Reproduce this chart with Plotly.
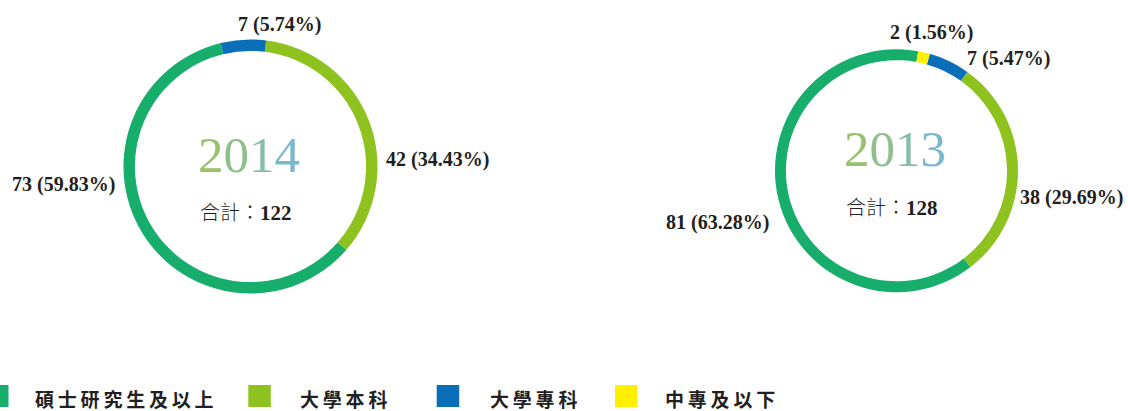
import plotly.graph_objects as go

W, H = 1128, 411

# Staff education levels, two years
categories = ["碩士研究生及以上", "大學本科", "大學專科", "中專及以下"]
colors = ["#17ad6a", "#8dc21f", "#0a6fb8", "#fff000"]

years = ["2014", "2013"]
counts_2014 = [73, 42, 7, 0]
counts_2013 = [81, 38, 7, 2]
pct_2014 = ["59.83", "34.43", "5.74", ""]
pct_2013 = ["63.28", "29.69", "5.47", "1.56"]

# digit colours of the year captions (green to light blue)
year_digit_colors = ["#97c26a", "#8fc08c", "#87bcab", "#7bb7cf"]

# pixel layout helpers
def px(x):
    return x / W

def py(y):
    return 1 - y / H

charts = [
    dict(year="2014", counts=counts_2014, pct=pct_2014, cx=250.5, cy=166.5, r=127, rot=131,
         year_y=155, total_y=211,
         labels=[(63, 184), (437, 159), (279, 24), None]),
    dict(year="2013", counts=counts_2013, pct=pct_2013, cx=896.5, cy=170.7, r=121.5, rot=142.5,
         year_y=149, total_y=206,
         labels=[(718, 222), (1071, 197), (1008, 58), (931, 32)]),
]

fig = go.Figure()
annotations = []
shapes = []

label_color = "#231f20"

for ch in charts:
    cx, cy, r = ch["cx"], ch["cy"], ch["r"]
    fig.add_trace(go.Pie(
        labels=categories,
        values=ch["counts"],
        marker=dict(colors=colors, line=dict(width=0)),
        hole=0.91,
        sort=False,
        direction="counterclockwise",
        rotation=ch["rot"],
        textinfo="none",
        hoverinfo="label+value+percent",
        showlegend=False,
        domain=dict(x=[px(cx - r), px(cx + r)], y=[py(cy + r), py(cy - r)]),
    ))

    # year caption, one colour per digit
    year_text = "".join(
        f"<span style='color:{c}'>{d}</span>" for d, c in zip(ch["year"], year_digit_colors)
    )
    annotations.append(dict(
        x=px(cx - 2), y=py(ch["year_y"]), xref="paper", yref="paper",
        text=year_text, showarrow=False, xanchor="center", yanchor="middle",
        font=dict(family="Liberation Serif", size=51, color="#8fc08c"),
    ))

    total = sum(ch["counts"])
    annotations.append(dict(
        x=px(cx - 5), y=py(ch["total_y"]), xref="paper", yref="paper",
        text=("合計：<span style='font-family:Liberation Serif;font-weight:bold;font-size:21px'>"
              f"{total}</span>"),
        showarrow=False, xanchor="center", yanchor="middle",
        font=dict(family="Noto Sans CJK TC", size=20, color=label_color, weight=300),
    ))

    # value labels around the ring
    for v, p, pos in zip(ch["counts"], ch["pct"], ch["labels"]):
        if v == 0 or pos is None:
            continue
        annotations.append(dict(
            x=px(pos[0]), y=py(pos[1]), xref="paper", yref="paper",
            text=f"{v} ({p}%)", showarrow=False, xanchor="center", yanchor="middle",
            font=dict(family="Liberation Serif", size=20, color=label_color, weight="bold"),
        ))

# legend row along the bottom
legend_sq_x = [-14, 248.3, 436.7, 615]
legend_txt_x = [33, 298, 488, 663]
for name, col, sx, tx in zip(categories, colors, legend_sq_x, legend_txt_x):
    shapes.append(dict(
        type="rect", xref="paper", yref="paper",
        x0=px(sx), x1=px(sx + 22.5), y0=py(407), y1=py(385),
        fillcolor=col, line=dict(width=0),
    ))
    annotations.append(dict(
        x=px(tx), y=py(398), xref="paper", yref="paper",
        text="\u2009".join(name), showarrow=False, xanchor="left", yanchor="middle",
        font=dict(family="Noto Sans CJK TC", size=19, color=label_color, weight="bold"),
    ))

fig.update_layout(
    width=W, height=H,
    margin=dict(l=0, r=0, t=0, b=0),
    paper_bgcolor="white",
    plot_bgcolor="white",
    annotations=annotations,
    shapes=shapes,
)

fig.write_html("out.html")
